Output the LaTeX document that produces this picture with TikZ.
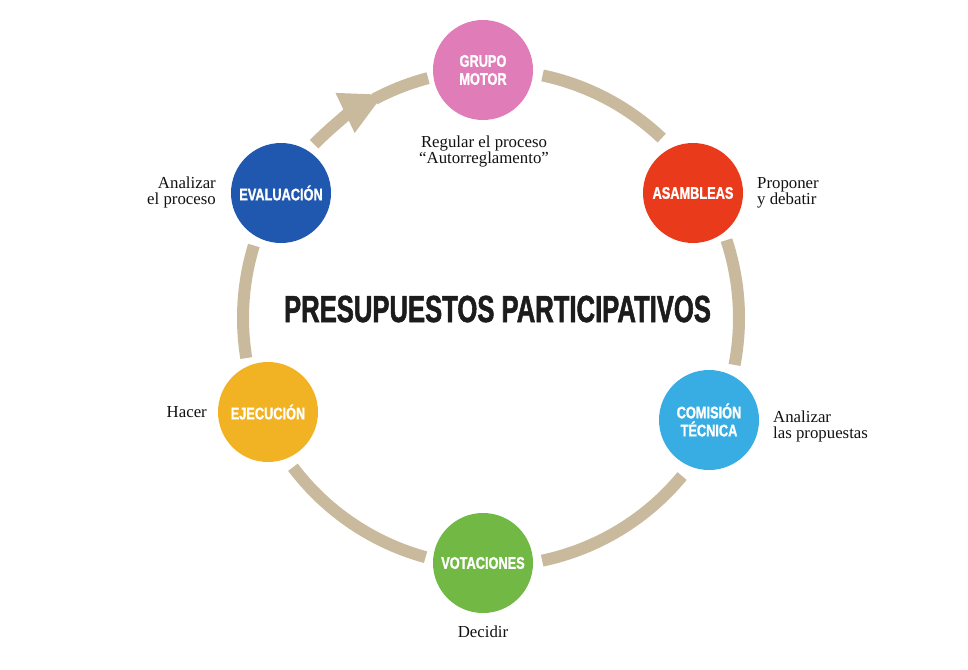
\documentclass[tikz,border=0pt]{standalone}
\usepackage{fontspec}
\setmainfont{Liberation Serif}
\newfontfamily\circfont{Liberation Sans}[FakeStretch=0.76, BoldFeatures={FakeBold=1.2}]
\newfontfamily\titlefont{Liberation Sans}[FakeStretch=0.68, BoldFeatures={FakeBold=1.4}]
\usetikzlibrary{arrows.meta}
\definecolor{ringc}{HTML}{C9B99D}
\definecolor{cpink}{HTML}{E07CB8}
\definecolor{cred}{HTML}{E93B1C}
\definecolor{ccyan}{HTML}{37ADE3}
\definecolor{cgreen}{HTML}{72B844}
\definecolor{cyellow}{HTML}{F1B324}
\definecolor{cblue}{HTML}{2058AF}
\definecolor{ctitle}{HTML}{1C1C1C}
\tikzset{
  stage/.style={circle, fill=#1, minimum size=100pt, inner sep=0pt, text=white,
    font=\circfont\bfseries\fontsize{16.8}{18}\selectfont, align=center},
  ring/.style={draw=ringc, line width=12pt},
  desc/.style={inner sep=0pt, font=\fontsize{16.8}{16}\selectfont, text=black!93}
}
\begin{document}
\begin{tikzpicture}[x=1pt,y=1pt]
\useasboundingbox[fill=white] (0,0) rectangle (968,-669);
\coordinate (ctr) at (491,-318);
% ring arcs
\draw[ring] ([shift={(ctr)}]78:248) arc[start angle=78, end angle=46.5, radius=248];
\draw[ring] ([shift={(ctr)}]18.3:248) arc[start angle=18.3, end angle=-10.9, radius=248];
\draw[ring] ([shift={(ctr)}]-39.6:248) arc[start angle=-39.6, end angle=-78.1, radius=248];
\draw[ring] ([shift={(ctr)}]-105.3:248) arc[start angle=-105.3, end angle=-143, radius=248];
\draw[ring] ([shift={(ctr)}]189.3:248) arc[start angle=189.3, end angle=163, radius=248];
\draw[ring, -{Triangle[length=43pt,width=41pt]}] ([shift={(ctr)}]135.5:248) arc[start angle=135.5, end angle=115.6, radius=248];
\draw[ring] ([shift={(ctr)}]118:248) arc[start angle=118, end angle=104.7, radius=248];
% stages
\node[stage=cpink] (gm) at (483,-70) {GRUPO\\MOTOR};
\node[stage=cred] (asa) at (693,-193) {ASAMBLEAS};
\node[stage=ccyan] (com) at (709,-420) {COMISIÓN\\TÉCNICA};
\node[stage=cgreen] (vot) at (483,-563) {VOTACIONES};
\node[stage=cyellow] (eje) at (268,-412) {EJECUCIÓN};
\node[stage=cblue] (eva) at (281,-193) {EVALUACIÓN};
% title
\node[inner sep=0pt, anchor=base, text=ctitle, font=\titlefont\bfseries\fontsize{37.7}{40}\selectfont] (title) at (497.5,-322) {PRESUPUESTOS PARTICIPATIVOS};
% descriptions (base anchor = baseline of the last line)
\node[desc, anchor=base, align=center] (dgm) at (484,-163) {Regular el proceso\\“Autorreglamento”};
\node[desc, anchor=base west, align=left] (dasa) at (757,-204) {Proponer\\y debatir};
\node[desc, anchor=base west, align=left] (dcom) at (773,-438) {Analizar\\las propuestas};
\node[desc, anchor=base] (dvot) at (483,-637) {Decidir};
\node[desc, anchor=base east] (deje) at (207,-417) {Hacer};
\node[desc, anchor=base east, align=right] (deva) at (216,-204) {Analizar\\el proceso};
\end{tikzpicture}
\end{document}
